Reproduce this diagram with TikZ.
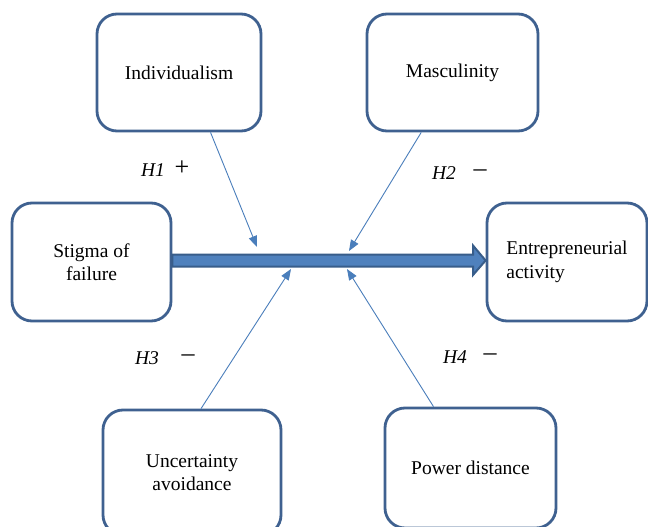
\documentclass[tikz,border=0pt]{standalone}
\usepackage{fontspec}
\setmainfont{Liberation Serif}
\usetikzlibrary{arrows.meta,calc}
\definecolor{boxc}{HTML}{3F6190}
\definecolor{thinc}{HTML}{4A7EBB}
\definecolor{blockfill}{HTML}{4F81BD}
\definecolor{blockdraw}{HTML}{385D8A}
\begin{document}
\begin{tikzpicture}[x=1pt,y=-1pt,
  box/.style={draw=boxc,line width=2.8pt,rounded corners=20pt,fill=white,
    align=center,inner sep=0pt,font=\fontsize{19.5}{23.5}\selectfont},
  hyp/.style={font=\fontsize{19.5}{23.5}\selectfont\itshape,inner sep=0pt},
  sgn/.style={font=\fontsize{26}{30}\selectfont,inner sep=0pt},
  thin/.style={draw=thinc,line width=0.9pt,-{Triangle[length=11pt,width=8.5pt]}}]
\useasboundingbox (0,0) rectangle (648,527);
\clip (0,0) rectangle (648,527);
\fill[white] (0,0) rectangle (648,527);
\node[box,minimum width=164pt,minimum height=117pt] (ind) at (179,72.5) {Individualism};
\node[box,minimum width=171pt,minimum height=117pt] (mas) at (452.5,72.5) {Masculinity};
\node[box,minimum width=159pt,minimum height=118pt] (sti) at (91.5,262) {Stigma of\\failure};
\node[box,minimum width=160pt,minimum height=118pt,align=left] (ent) at (567,262) {Entrepreneurial\\activity};
\node[box,minimum width=178pt,minimum height=125pt] (unc) at (192,472.5) {Uncertainty\\avoidance};
\node[box,minimum width=171pt,minimum height=120pt] (pow) at (470.5,468) {Power distance};
% block arrow
\draw[draw=blockdraw,fill=blockfill,line width=2pt,line join=miter]
  (sti.east |- 0,254.5) -- (473,254.5) -- (473,245.5) -- (ent.west |- 0,260.5) -- (473,275) -- (473,266.5) -- (sti.east |- 0,266.5) -- cycle;
\coordinate (t1) at (257,247);
\coordinate (t2) at (349,251);
\coordinate (t3) at (291,269);
\coordinate (t4) at (347,269);
\draw[thin] ($(ind.south west)!0.689!(ind.south east)$) -- (t1);
\draw[thin] ($(mas.south west)!0.32!(mas.south east)$) -- (t2);
\draw[thin] ($(unc.north west)!0.55!(unc.north east)$) -- (t3);
\draw[thin] ($(pow.north west)!0.287!(pow.north east)$) -- (t4);
\node[hyp] (h1) at (153,170) {H1};
\node[sgn] (s1) at (182,168) {+};
\node[hyp] (h2) at (444,173) {H2};
\node[sgn] (s2) at (480,173.5) {–};
\node[hyp] (h3) at (147,358) {H3};
\node[sgn] (s3) at (188,358.5) {–};
\node[hyp] (h4) at (455,357) {H4};
\node[sgn] (s4) at (490,357.5) {–};
\end{tikzpicture}
\end{document}
